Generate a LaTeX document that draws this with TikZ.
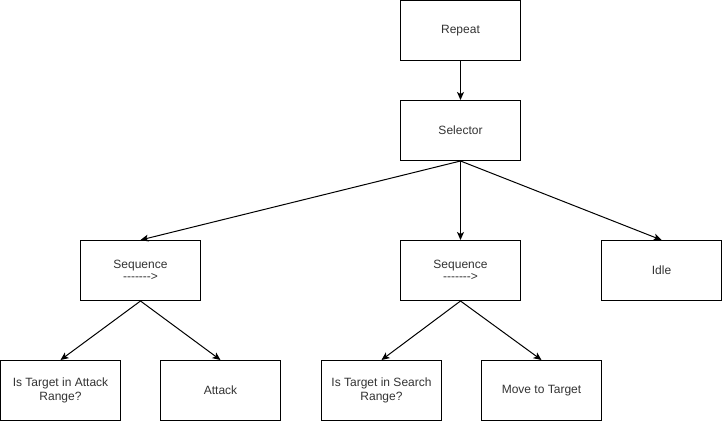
\documentclass[tikz,border=0pt]{standalone}
\usepackage{fontspec}
\setmainfont{Liberation Sans}
\usetikzlibrary{arrows.meta}
\newcommand{\dsh}{-\kern0pt}
\begin{document}
\begin{tikzpicture}[x=1pt,y=-1pt,
  box/.style={draw=black,line width=1pt,fill=white,minimum width=120pt,minimum height=60pt,
    inner sep=2pt,align=center,text=black!80,font=\fontsize{12}{14}\selectfont},
  edge/.style={line width=1pt,-{Stealth[length=8pt,width=7pt,inset=2pt]}}]
\useasboundingbox (0,0) rectangle (722,422);
\node[box] (rep) at (460.5,30.5) {Repeat};
\node[box] (sel) at (460.5,130.5) {Selector};
\node[box] (seql) at (140.5,270.5) {Sequence\\[-2pt]\dsh\dsh\dsh\dsh\dsh\dsh\dsh>};
\node[box] (seqm) at (460.5,270.5) {Sequence\\[-2pt]\dsh\dsh\dsh\dsh\dsh\dsh\dsh>};
\node[box] (idle) at (661.5,270.5) {Idle};
\node[box] (a) at (60.5,390.5) {Is Target in Attack\\Range?};
\node[box] (b) at (220.5,390.5) {Attack};
\node[box] (c) at (381.5,390.5) {Is Target in Search\\Range?};
\node[box] (d) at (541.5,390.5) {Move to Target};
\draw[edge] (rep.south) -- (sel.north);
\draw[edge] (sel.south) -- (seql.north);
\draw[edge] (sel.south) -- (seqm.north);
\draw[edge] (sel.south) -- (idle.north);
\draw[edge] (seql.south) -- (a.north);
\draw[edge] (seql.south) -- (b.north);
\draw[edge] (seqm.south) -- (c.north);
\draw[edge] (seqm.south) -- (d.north);
\end{tikzpicture}
\end{document}
